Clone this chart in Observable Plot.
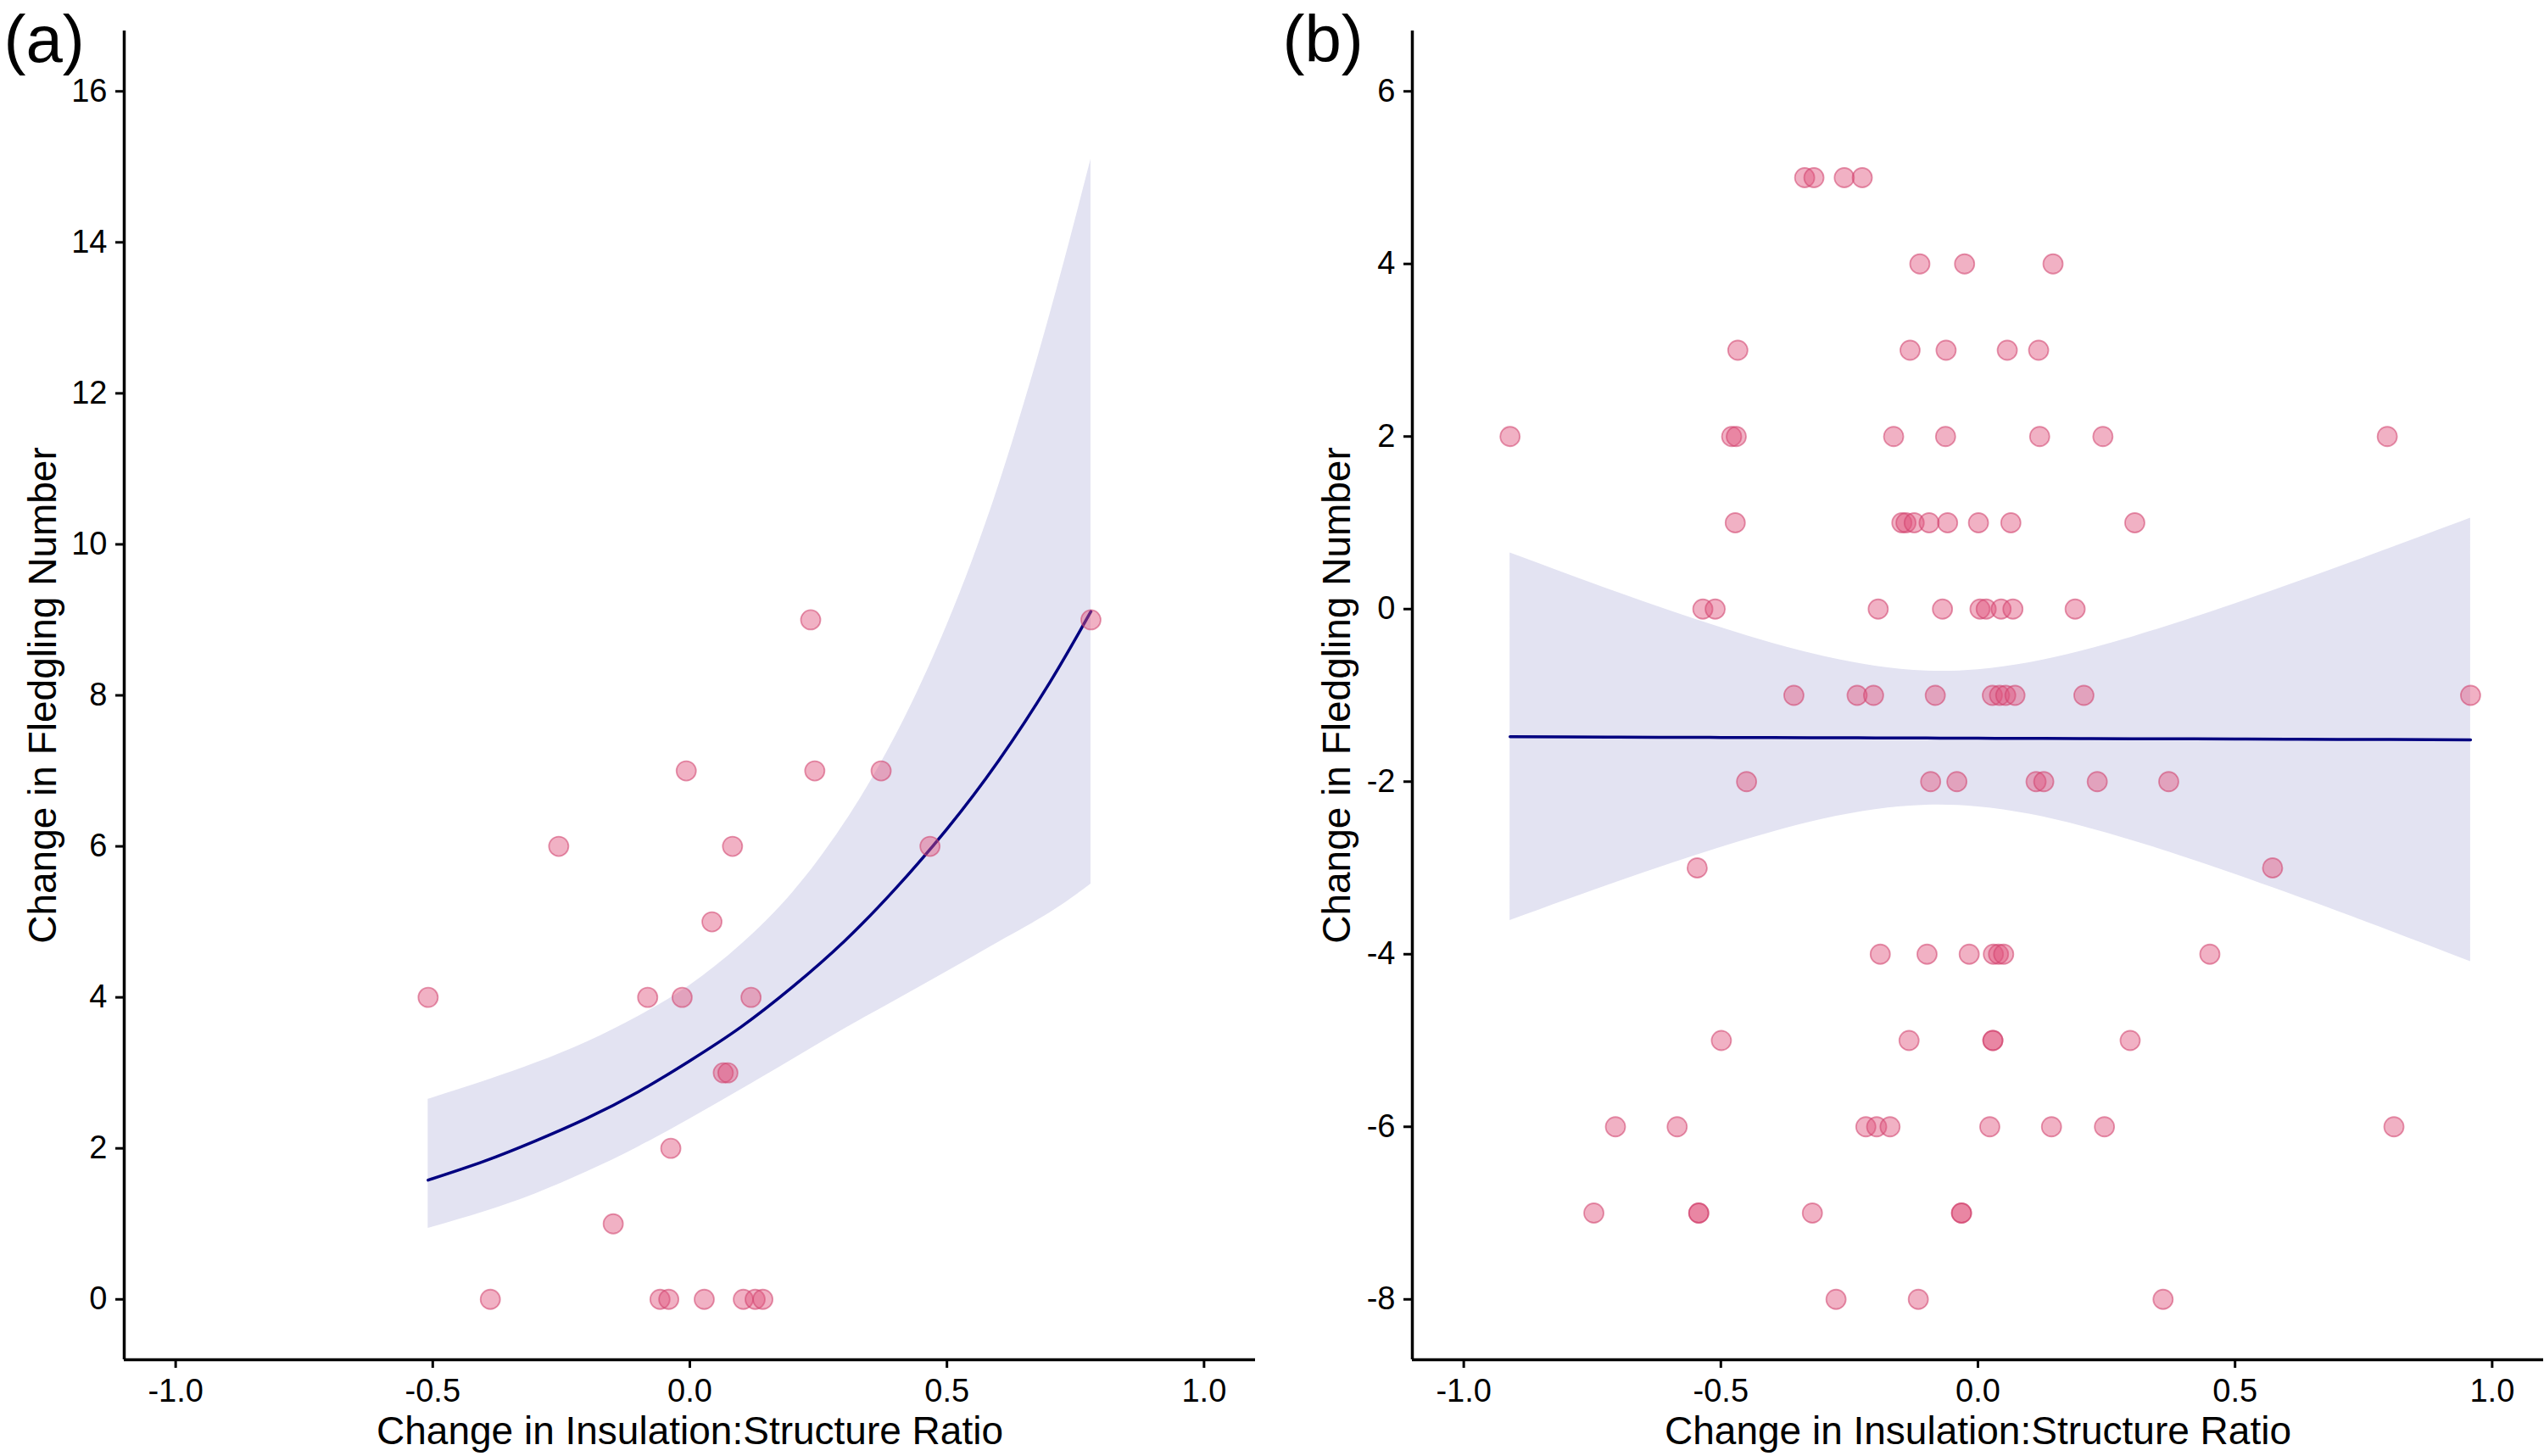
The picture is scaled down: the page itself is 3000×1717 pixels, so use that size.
<!DOCTYPE html>
<html>
<head>
<meta charset="utf-8">
<script src="https://cdn.jsdelivr.net/npm/d3@7"></script>
<script src="https://cdn.jsdelivr.net/npm/@observablehq/plot@0.6"></script>
<style>
  html, body { margin: 0; padding: 0; background: #fff; overflow: hidden; }
  #wrap { display: flex; flex-direction: row; width: 3000px; height: 1717px; }
  #wrap svg { display: block; flex: none; }
</style>
</head>
<body>
<div id="wrap"></div>
<script>
// ---------- Panel (a) data ----------
const aX = [-0.509, -0.388, -0.255, -0.149, -0.082, -0.058, -0.041, -0.037, -0.015, -0.007,
            0.028, 0.043, 0.065, 0.074, 0.083, 0.104, 0.119, 0.127, 0.142, 0.235,
            0.243, 0.372, 0.467, 0.780];
const aY = [4, 0, 6, 1, 4, 0, 0, 2, 4, 7,
            0, 5, 3, 3, 6, 0, 4, 0, 0, 9,
            7, 7, 6, 9];
// fitted curve and confidence band
const aFitX = [-0.509, -0.4, -0.3, -0.2, -0.1, 0, 0.1, 0.2, 0.3, 0.4, 0.5, 0.6, 0.7, 0.78];
const aFit  = [1.58, 1.83, 2.10, 2.40, 2.75, 3.16, 3.61, 4.14, 4.74, 5.44, 6.23, 7.13, 8.17, 9.11];
const aLo   = [0.94, 1.16, 1.40, 1.69, 2.02, 2.39, 2.78, 3.18, 3.58, 3.96, 4.34, 4.73, 5.12, 5.50];
const aHi   = [2.65, 2.89, 3.13, 3.41, 3.75, 4.16, 4.70, 5.39, 6.30, 7.46, 8.93, 10.77, 13.04, 15.10];
const aYTicks = [0, 2, 4, 6, 8, 10, 12, 14, 16];

// ---------- Panel (b) data ----------
const bX = [
  -0.337, -0.319, -0.260, -0.225,                                           // 5
  -0.113, -0.026, 0.146,                                                    // 4
  -0.467, -0.132, -0.062, 0.057, 0.118,                                     // 3
  -0.910, -0.479, -0.470, -0.164, -0.063, 0.120, 0.243, 0.796,              // 2
  -0.472, -0.148, -0.140, -0.124, -0.095, -0.059, 0.001, 0.064, 0.305,      // 1
  -0.535, -0.511, -0.194, -0.069, 0.004, 0.016, 0.045, 0.068, 0.189,        // 0
  -0.358, -0.235, -0.203, -0.083, 0.028, 0.042, 0.054, 0.072, 0.206, 0.958, // -1
  -0.450, -0.092, -0.041, 0.113, 0.128, 0.232, 0.371,                       // -2
  -0.546, 0.573,                                                            // -3
  -0.190, -0.099, -0.017, 0.030, 0.040, 0.050, 0.451,                       // -4
  -0.499, -0.134, 0.029, 0.029, 0.296,                                      // -5
  -0.705, -0.585, -0.218, -0.197, -0.171, 0.023, 0.143, 0.246, 0.809,       // -6
  -0.747, -0.543, -0.543, -0.322, -0.032, -0.032,                           // -7
  -0.276, -0.116, 0.360                                                     // -8
];
const bY = [
  5, 5, 5, 5,
  4, 4, 4,
  3, 3, 3, 3, 3,
  2, 2, 2, 2, 2, 2, 2, 2,
  1, 1, 1, 1, 1, 1, 1, 1, 1,
  0, 0, 0, 0, 0, 0, 0, 0, 0,
  -1, -1, -1, -1, -1, -1, -1, -1, -1, -1,
  -2, -2, -2, -2, -2, -2, -2,
  -3, -3,
  -4, -4, -4, -4, -4, -4, -4,
  -5, -5, -5, -5, -5,
  -6, -6, -6, -6, -6, -6, -6, -6, -6,
  -7, -7, -7, -7, -7, -7,
  -8, -8, -8
];
const bFitX = [-0.91, -0.8, -0.7, -0.6, -0.5, -0.4, -0.3, -0.2, -0.1, 0, 0.1, 0.2, 0.3, 0.4, 0.5, 0.6, 0.7, 0.8, 0.958];
const bFit  = [-1.480, -1.482, -1.484, -1.486, -1.488, -1.490, -1.491, -1.493, -1.495, -1.497, -1.499, -1.501, -1.503, -1.504, -1.506, -1.508, -1.510, -1.512, -1.515];
const bLo   = [-3.610, -3.371, -3.159, -2.955, -2.762, -2.585, -2.433, -2.324, -2.272, -2.292, -2.377, -2.513, -2.682, -2.871, -3.074, -3.286, -3.504, -3.727, -4.085];
const bHi   = [0.650, 0.407, 0.191, -0.017, -0.214, -0.395, -0.549, -0.662, -0.718, -0.702, -0.621, -0.489, -0.324, -0.137, 0.062, 0.270, 0.484, 0.703, 1.055];
const bYTicks = [-8, -6, -4, -2, 0, 2, 4, 6];

// ---------- shared ----------
const xTicks = [-1.0, -0.5, 0.0, 0.5, 1.0];
const xTitle = "Change in Insulation:Structure Ratio";
const yTitle = "Change in Fledgling Number";
const panelLabels = ["(a)", "(b)"];

const FONT = "'Liberation Sans', Arial, Helvetica, sans-serif";
const BAND = "#e3e3f2";
const LINE = "#000080";
const DOT_FILL = "#e0527d";
const DOT_STROKE = "#cf3f6c";

function panel({pts, fit, xDomain, yDomain, yTicks, marginLeft, marginRight, letter, letterDx, yTitleDx}) {
  return Plot.plot({
    width: 1500,
    height: 1717,
    marginLeft,
    marginRight,
    marginTop: 36,
    marginBottom: 114,
    style: {fontFamily: FONT, color: "#000", background: "#fff"},
    x: {domain: xDomain},
    y: {domain: yDomain},
    marks: [
      Plot.areaY(fit, {x: "x", y1: "lo", y2: "hi", fill: BAND, curve: "natural"}),
      Plot.line(fit, {x: "x", y: "fit", stroke: LINE, strokeWidth: 3.5, curve: "natural"}),
      Plot.dot(pts, {x: "x", y: "y", r: 11.5, fill: DOT_FILL, fillOpacity: 0.45,
                     stroke: DOT_STROKE, strokeOpacity: 0.55, strokeWidth: 1.8}),
      Plot.ruleX([xDomain[0]], {stroke: "#000", strokeWidth: 3.5}),
      Plot.ruleY([yDomain[0]], {stroke: "#000", strokeWidth: 3.5}),
      Plot.axisX({ticks: xTicks, tickFormat: d => d.toFixed(1), tickSize: 10, tickPadding: 13,
                  fontSize: 38, strokeWidth: 3, label: null}),
      Plot.axisY({ticks: yTicks, tickFormat: d => String(d), tickSize: 10, tickPadding: 10,
                  fontSize: 38, strokeWidth: 3, label: null}),
      Plot.text([xTitle], {text: d => d, frameAnchor: "bottom", dy: 99, lineAnchor: "bottom",
                           fontSize: 46}),
      Plot.text([yTitle], {text: d => d, frameAnchor: "left", dx: yTitleDx, rotate: -90,
                           textAnchor: "middle", lineAnchor: "middle", fontSize: 46}),
      Plot.text([letter], {text: d => d, frameAnchor: "top-left", dx: letterDx, dy: 36,
                           lineAnchor: "bottom", textAnchor: "start", fontSize: 78})
    ]
  });
}

const ptsA = aX.map((x, i) => ({x, y: aY[i]}));
const fitA = aFitX.map((x, i) => ({x, fit: aFit[i], lo: aLo[i], hi: aHi[i]}));
const ptsB = bX.map((x, i) => ({x, y: bY[i]}));
const fitB = bFitX.map((x, i) => ({x, fit: bFit[i], lo: bLo[i], hi: bHi[i]}));

const wrap = document.getElementById("wrap");
wrap.appendChild(panel({
  pts: ptsA, fit: fitA, xDomain: [-1.1, 1.1], yDomain: [-0.8, 16.8], yTicks: aYTicks,
  marginLeft: 146, marginRight: 20, letter: panelLabels[0], letterDx: -142, yTitleDx: -95
}));
wrap.appendChild(panel({
  pts: ptsB, fit: fitB, xDomain: [-1.1, 1.1], yDomain: [-8.7, 6.7], yTicks: bYTicks,
  marginLeft: 165, marginRight: 1, letter: panelLabels[1], letterDx: -153, yTitleDx: -88
}));
</script>
</body>
</html>
